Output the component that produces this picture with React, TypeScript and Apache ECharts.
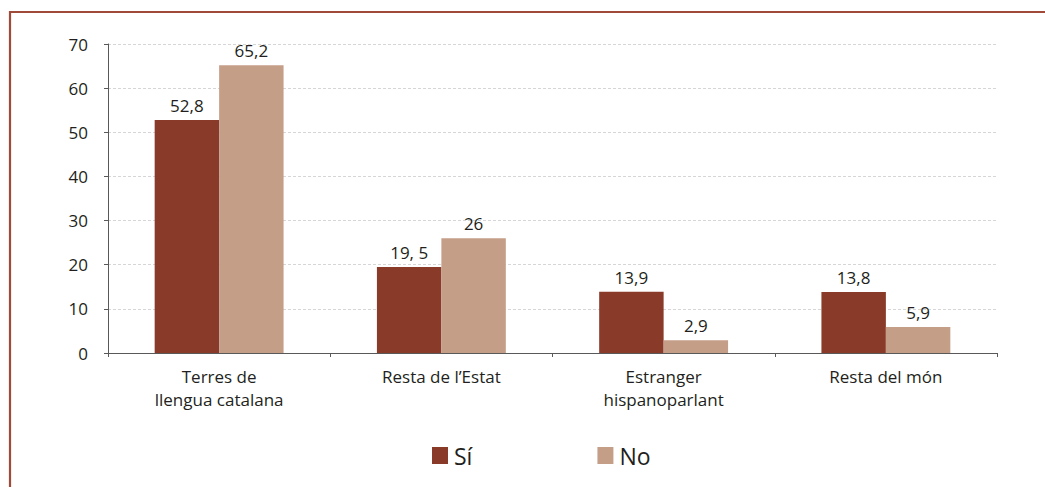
import React, { useEffect, useRef } from "react";
import * as echarts from "echarts";

const categories = ["Terres de\nllengua catalana", "Resta de l’Estat", "Estranger\nhispanoparlant", "Resta del món"];
const siValues = [52.8, 19.5, 13.9, 13.8];
const noValues = [65.2, 26, 2.9, 5.9];
const siLabels = ["52,8", "19, 5", "13,9", "13,8"];
const noLabels = ["65,2", "26", "2,9", "5,9"];
const yTicks = { min: 0, max: 70, interval: 10 };

const FONT = "'Open Sans', 'Noto Sans', sans-serif";
const TEXT = "#231f20";
const SI_COLOR = "#8a3a29";
const NO_COLOR = "#c59e88";
const FRAME = "#a04b3a";

export default function App() {
  const ref = useRef<HTMLDivElement>(null);
  useEffect(() => {
    document.body.style.margin = "0";
    const chart = echarts.init(ref.current!, undefined, { renderer: "svg" });
    chart.setOption({
      animation: false,
      backgroundColor: "#ffffff",
      textStyle: { fontFamily: FONT, color: TEXT },
      grid: { left: 108, right: 48, top: 44, bottom: 134, containLabel: false },
      legend: {
        left: 432,
        top: 444,
        padding: 0,
        itemWidth: 16,
        itemHeight: 17,
        itemGap: 125,
        icon: "rect",
        textStyle: { fontFamily: FONT, fontSize: 23, color: TEXT, padding: [0, 0, 0, 1] },
        data: ["Sí", "No"],
      },
      xAxis: {
        type: "category",
        data: categories,
        axisLine: { show: true, lineStyle: { color: "#595959", width: 1 } },
        axisTick: { show: true, length: 4, lineStyle: { color: "#595959" } },
        axisLabel: { fontFamily: FONT, fontSize: 17, color: TEXT, margin: 12, lineHeight: 23, interval: 0 },
        splitLine: { show: false },
      },
      yAxis: {
        type: "value",
        min: yTicks.min,
        max: yTicks.max,
        interval: yTicks.interval,
        axisLine: { show: true, lineStyle: { color: "#595959", width: 1 } },
        axisTick: { show: true, length: 4, lineStyle: { color: "#595959" } },
        axisLabel: { fontFamily: FONT, fontSize: 17, color: TEXT, margin: 20 },
        splitLine: { show: true, lineStyle: { color: "#d6d6d6", type: [3, 2], width: 1 } },
      },
      series: [
        {
          name: "Sí",
          type: "bar",
          data: siValues,
          itemStyle: { color: SI_COLOR },
          barGap: "0%",
          barCategoryGap: "42%",
          label: {
            show: true,
            position: "top",
            distance: 6,
            fontFamily: FONT,
            fontSize: 17,
            color: TEXT,
            formatter: (p: any) => siLabels[p.dataIndex],
          },
        },
        {
          name: "No",
          type: "bar",
          data: noValues,
          itemStyle: { color: NO_COLOR },
          barGap: "0%",
          barCategoryGap: "42%",
          label: {
            show: true,
            position: "top",
            distance: 6,
            fontFamily: FONT,
            fontSize: 17,
            color: TEXT,
            formatter: (p: any) => noLabels[p.dataIndex],
          },
        },
      ],
      graphic: [
        { type: "line", shape: { x1: 9, y1: 12, x2: 1045, y2: 12 }, style: { stroke: FRAME, lineWidth: 2.2 }, silent: true },
        { type: "line", shape: { x1: 10, y1: 11, x2: 10, y2: 487 }, style: { stroke: FRAME, lineWidth: 2.2 }, silent: true },
      ],
    });
    return () => chart.dispose();
  }, []);
  return <div ref={ref} style={{ position: "absolute", left: 0, top: 0, width: 1045, height: 487 }} />;
}
